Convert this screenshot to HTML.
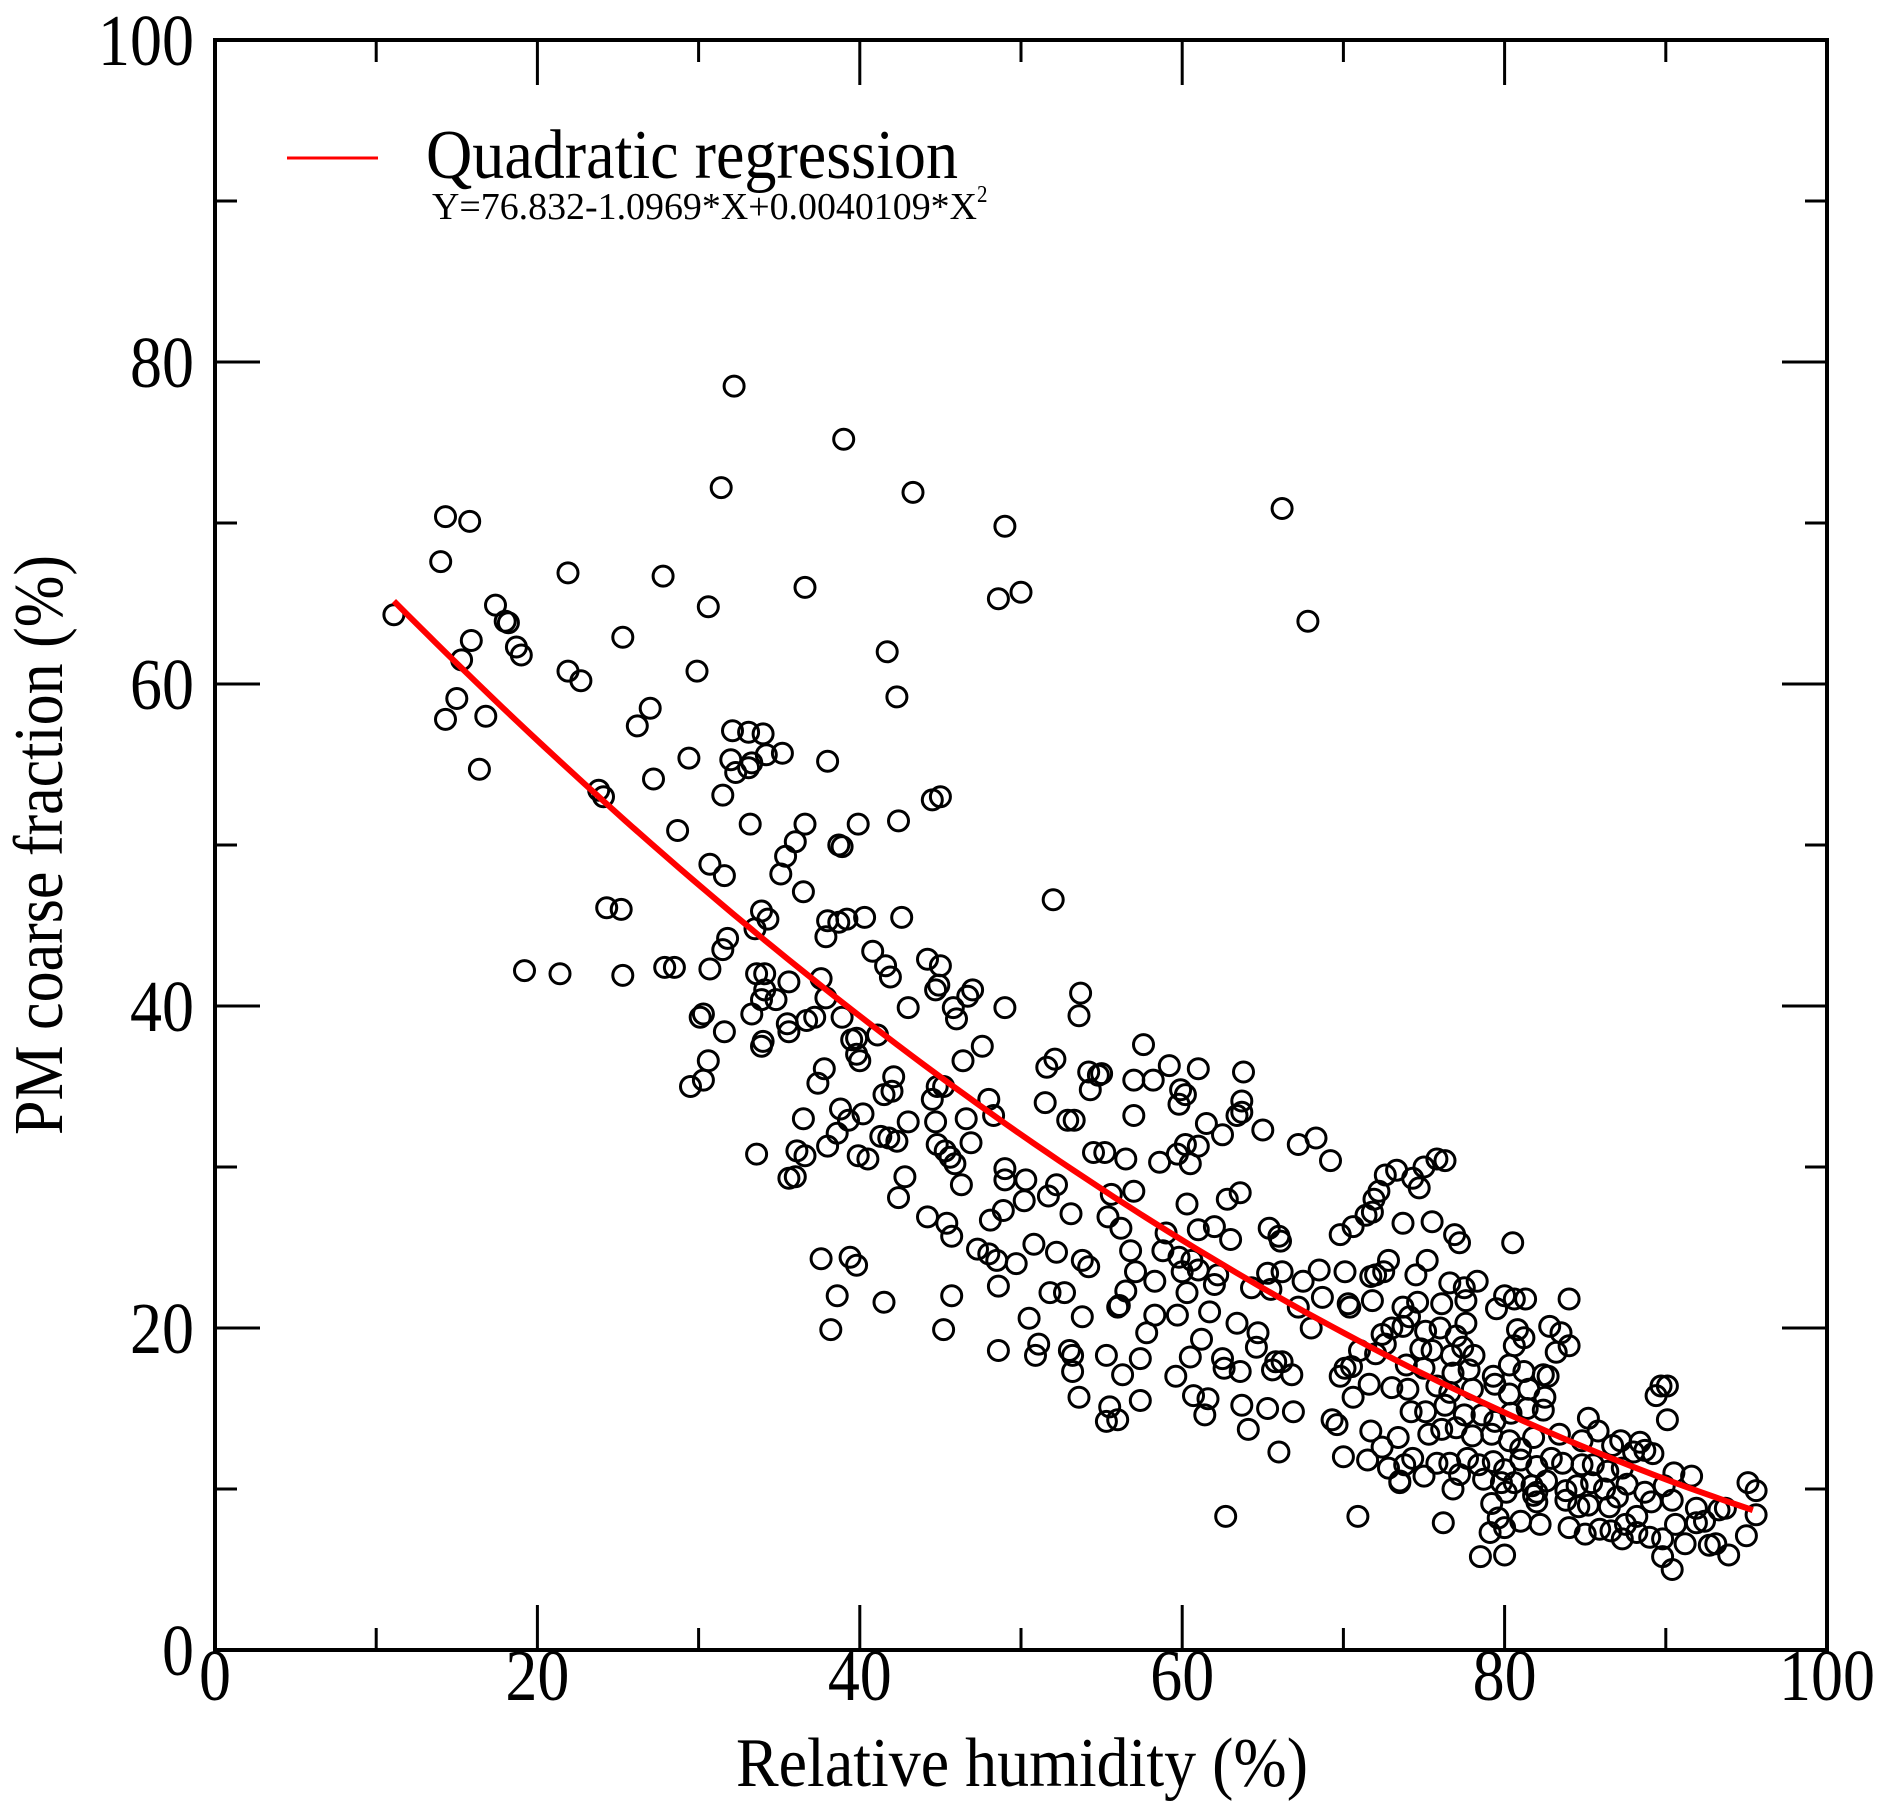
<!DOCTYPE html>
<html><head><meta charset="utf-8"><style>
html,body{margin:0;padding:0;background:#fff;}
svg{display:block;font-family:"Liberation Serif",serif;}
</style></head><body>
<svg id="chart" width="1892" height="1818" viewBox="0 0 1892 1818" xmlns="http://www.w3.org/2000/svg">
<g id="ticks"></g>
<g id="pts"></g>
<g id="fit"></g>
<rect x="215" y="40" width="1612" height="1610" fill="none" stroke="#000" stroke-width="4"/>
<g id="labels" font-size="64" fill="#000"></g>
<text transform="translate(1022,1786) scale(1,1.12)" font-size="62" text-anchor="middle" textLength="572" lengthAdjust="spacingAndGlyphs">Relative humidity (%)</text>
<text transform="translate(62,845) rotate(-90) scale(1,1.12)" font-size="62" text-anchor="middle">PM coarse fraction (%)</text>
<g>
<line x1="287" y1="158" x2="378" y2="158" stroke="#f00" stroke-width="3"/>
<text transform="translate(426,178) scale(1,1.12)" font-size="62" textLength="532" lengthAdjust="spacingAndGlyphs">Quadratic regression</text>
<text transform="translate(432,219) scale(1,1.15)" font-size="33"><tspan textLength="545" lengthAdjust="spacingAndGlyphs">Y=76.832-1.0969*X+0.0040109*X</tspan><tspan font-size="21" dy="-15">2</tspan></text>
</g>
</svg>
<script>
const xTicks=[0,20,40,60,80,100];
const yTicks=[0,20,40,60,80,100];
const fitCoef=[76.832,-1.0969,0.0040109];
const fitRange=[11.1,95.4];
const px=[11.1,14.0,14.3,14.3,15.0,15.3,15.8,15.9,16.4,16.8,17.4,18.0,18.2,18.7,19.0,19.2,21.4,21.9,21.9,22.7,23.8,24.1,24.3,25.2,25.3,25.3,26.2,27.0,27.2,27.8,27.9,28.5,28.7,29.4,29.5,29.9,30.1,30.3,30.3,30.6,30.6,30.7,30.7,31.4,31.5,31.5,31.6,31.6,31.8,32.0,32.1,32.2,32.3,33.1,33.1,33.2,33.3,33.3,33.5,33.6,33.6,33.9,33.9,33.9,34.0,34.0,34.1,34.1,34.2,34.3,34.8,35.1,35.2,35.4,35.5,35.6,35.6,35.6,36.0,36.0,36.1,36.5,36.5,36.6,36.6,36.6,36.7,37.2,37.4,37.6,37.6,37.8,37.9,37.9,38.0,38.0,38.0,38.2,38.6,38.6,38.7,38.7,38.8,38.9,38.9,39.0,39.2,39.3,39.4,39.5,39.8,39.8,39.8,39.9,39.9,40.0,40.2,40.3,40.5,40.8,41.1,41.3,41.5,41.5,41.6,41.7,41.8,41.9,42.0,42.1,42.3,42.3,42.4,42.4,42.6,42.8,43.0,43.0,43.3,44.2,44.2,44.5,44.5,44.7,44.7,44.8,44.8,44.9,45.0,45.0,45.2,45.2,45.3,45.4,45.6,45.7,45.7,45.8,45.9,46.0,46.3,46.4,46.6,46.7,46.9,47.0,47.3,47.6,48.0,48.0,48.1,48.3,48.5,48.6,48.6,48.6,48.9,49.0,49.0,49.0,49.0,49.7,50.0,50.2,50.3,50.5,50.8,50.9,51.1,51.5,51.6,51.7,51.8,52.0,52.1,52.2,52.2,52.7,52.9,53.0,53.1,53.2,53.2,53.3,53.6,53.6,53.7,53.8,53.8,54.2,54.2,54.3,54.5,54.8,55.0,55.2,55.3,55.3,55.4,55.5,55.6,56.0,56.0,56.1,56.2,56.3,56.5,56.5,56.8,57.0,57.0,57.0,57.1,57.4,57.4,57.6,57.8,58.2,58.3,58.3,58.6,58.8,59.0,59.2,59.6,59.7,59.7,59.8,59.8,59.9,60.0,60.2,60.2,60.3,60.3,60.5,60.5,60.6,60.7,61.0,61.0,61.0,61.0,61.2,61.4,61.5,61.6,61.7,62.0,62.0,62.2,62.5,62.6,62.7,62.8,63.0,63.4,63.4,63.6,63.6,63.7,63.7,63.7,63.8,64.1,64.3,64.6,64.7,65.0,65.3,65.3,65.4,65.5,65.6,65.8,66.0,66.0,66.1,66.2,66.2,66.2,66.8,66.9,67.2,67.2,67.5,67.8,68.0,68.3,68.5,68.7,69.3,69.8,70.1,70.4,62.5];
const py=[64.3,67.6,70.4,57.8,59.1,61.5,70.1,62.7,54.7,58.0,64.9,63.9,63.8,62.3,61.8,42.2,42.0,66.9,60.8,60.2,53.4,53.0,46.1,46.0,62.9,41.9,57.4,58.5,54.1,66.7,42.4,42.4,50.9,55.4,35.0,60.8,39.3,39.5,35.4,64.8,36.6,48.8,42.3,72.2,53.1,43.5,48.1,38.4,44.2,55.3,57.1,78.5,54.5,57.0,54.8,51.3,55.1,39.5,44.8,42.0,30.8,45.9,40.4,37.5,56.9,37.8,42.0,41.0,55.6,45.4,40.4,48.2,55.7,49.3,38.9,41.5,38.4,29.3,50.2,29.4,31.0,47.1,33.0,51.3,66.0,30.7,39.1,39.3,35.2,41.7,24.3,36.1,44.3,40.5,55.2,45.3,31.3,19.9,32.1,22.0,45.2,50.0,33.6,49.9,39.3,75.2,45.4,32.9,24.4,37.9,38.0,37.0,23.9,51.3,30.7,36.6,33.3,45.5,30.5,43.4,38.2,31.9,34.5,21.6,42.5,62.0,31.8,41.8,34.7,35.6,59.2,31.6,51.5,28.1,45.5,29.4,39.9,32.8,71.9,42.9,26.9,52.8,34.2,41.0,32.8,35.0,31.4,41.3,53.0,42.5,35.0,19.9,31.0,26.5,30.6,25.7,22.0,39.9,30.2,39.2,28.9,36.6,33.0,40.6,31.5,41.0,24.9,37.5,34.2,24.6,26.7,33.2,24.2,65.3,22.6,18.6,27.3,69.8,39.9,29.9,29.2,24.0,65.7,27.9,29.2,20.6,25.2,18.3,19.0,34.0,36.2,28.2,22.2,46.6,36.7,28.9,24.7,22.2,32.9,18.6,27.1,18.3,17.3,32.9,39.4,15.7,40.8,24.2,20.7,35.9,23.8,34.8,30.9,35.7,35.8,30.9,18.3,14.2,26.9,15.1,28.3,21.3,14.3,21.4,26.2,17.1,30.5,22.3,24.8,35.4,33.2,28.5,23.5,15.5,18.1,37.6,19.7,35.4,20.8,22.9,30.3,24.8,25.9,36.3,17.0,30.8,20.8,33.9,24.4,34.8,23.5,34.5,31.4,27.7,22.2,30.2,18.2,24.2,15.8,26.1,31.3,36.1,23.6,19.3,14.6,32.7,15.6,21.0,22.7,26.3,23.3,18.1,17.5,8.3,28.0,25.5,20.3,33.2,28.4,17.3,34.1,15.2,33.4,35.9,13.7,22.5,18.8,19.7,32.3,23.4,15.0,26.2,22.4,17.4,17.9,25.7,12.3,25.4,70.9,23.5,17.9,17.1,14.8,31.4,21.3,22.9,63.9,20.0,31.8,23.6,21.9,14.3,17.0,23.5,21.3,32.0,17.5,8.3];
const qx=[70.1,70.9,71.4,71.8,72.2,72.6,73.3,74.3,74.7,75.0,75.8,76.3,69.2,71.9,73.7,75.5,76.9,77.2,80.5,69.8,70.6,72.0,72.8,74.5,75.2,76.6,77.5,78.3,71.7,72.5,73.7,74.6,76.1,77.6,79.5,80.0,80.6,81.3,84.0,70.3,71.8,73.0,74.1,75.1,76.0,77.0,77.6,80.8,81.2,82.8,83.5,72.4,73.7,74.8,75.5,76.7,77.4,78.1,80.6,83.2,84.0,71.0,72.6,73.9,75.0,76.8,77.8,79.3,80.3,81.2,82.4,82.7,70.5,72.0,74.0,75.8,76.6,78.0,79.4,80.3,81.5,82.5,71.6,73.0,74.2,75.1,76.3,77.5,78.6,79.4,80.4,81.4,82.4,85.2,69.6,70.6,71.7,73.4,75.3,76.1,77.0,78.0,79.2,80.3,81.0,81.8,83.4,84.8,86.7,88.4,89.7,90.1,89.4,90.1,85.8,87.2,88.0,88.7,89.2,70.0,71.5,72.4,73.8,74.3,75.8,76.6,77.7,78.4,79.3,80.0,81.0,82.0,82.9,83.6,84.8,85.5,86.4,87.3,90.5,91.6,72.8,75.0,77.2,78.7,79.8,80.6,81.7,82.6,83.8,84.5,85.4,86.2,87.6,88.7,89.9,95.1,95.6,73.5,73.5,76.8,79.2,80.1,81.8,82.0,83.8,84.6,85.2,86.5,87.0,89.1,90.4,91.9,92.4,93.3,93.7,95.6,76.2,79.6,80.0,81.0,82.2,84.0,85.0,85.9,86.6,87.3,87.5,88.2,89.0,89.8,90.6,91.2,91.9,92.7,93.1,95.0,79.1,88.2,89.8,90.4,93.9,80.0,78.5,82.0];
const qy=[27.0,27.2,28.5,29.5,29.8,29.3,28.7,30.0,30.5,30.4,30.4,28.0,26.5,26.6,25.8,25.3,25.3,25.8,26.3,23.3,24.2,23.3,24.2,22.8,22.5,22.9,23.2,23.5,21.3,21.6,21.5,21.7,21.2,22.0,21.8,21.8,21.8,21.5,21.7,20.0,20.7,19.8,20.0,19.5,20.3,19.9,19.4,20.1,19.7,19.6,20.1,18.7,18.6,18.3,18.8,18.3,18.9,18.5,18.9,18.6,19.0,17.7,17.5,17.2,17.4,17.0,17.7,17.3,17.1,17.0,17.6,18.4,16.2,16.4,16.0,16.2,16.5,15.9,16.2,15.7,16.5,16.3,14.8,14.8,15.2,14.6,14.6,14.2,14.7,15.0,14.9,14.4,14.0,15.7,13.6,13.2,13.4,13.7,13.8,13.3,13.4,13.0,12.5,13.2,13.4,13.0,12.7,12.9,16.4,16.4,15.8,14.3,13.6,13.0,12.3,12.4,12.2,12.0,11.8,12.6,11.5,11.9,11.6,11.6,11.9,11.5,11.7,11.2,11.8,11.4,11.9,11.6,11.5,11.5,11.1,11.3,11.0,10.8,11.3,10.8,10.9,10.6,10.4,10.4,10.2,10.5,9.9,10.2,10.4,10.0,10.3,9.8,10.2,10.4,9.9,10.4,10.5,10.0,9.1,9.8,9.6,9.2,9.3,8.9,9.0,8.9,9.5,9.2,9.3,8.8,8.0,8.7,8.8,8.4,7.9,8.2,7.6,8.0,7.8,7.6,7.2,7.5,7.4,6.9,7.8,7.3,7.0,6.9,7.8,6.6,7.9,6.5,6.6,7.1,7.3,8.3,5.8,5.0,5.9,5.9,5.8,9.8,14.0,15.0];

const L=215,R=1827,T=40,B=1650;
function sx(v){return L+(v-0)/(100-0)*(R-L);}
function sy(v){return B-(v-0)/(100-0)*(B-T);}
const NS='http://www.w3.org/2000/svg';
const tg=document.getElementById('ticks'), lg=document.getElementById('labels');
function ln(x1,y1,x2,y2,name){
  const l=document.createElementNS(NS,'line');
  l.setAttribute('x1',x1);l.setAttribute('y1',y1);l.setAttribute('x2',x2);l.setAttribute('y2',y2);
  l.setAttribute('stroke','#000');l.setAttribute('stroke-width','3');
  
  
  tg.appendChild(l);
}
for(let i=0;i<xTicks.length;i++){
  const v=xTicks[i];
  [[v,45],[v+10,22]].forEach(([t,len])=>{ if(t>100)return;
    const X=sx(t); ln(X,B,X,B-len,'x-tick'); ln(X,T,X,T+len,'x-tick-top');});
  const tx=document.createElementNS(NS,'text');
  tx.setAttribute('transform','translate('+sx(v)+',1700) scale(1,1.15)');
  tx.setAttribute('text-anchor','middle');
  tx.textContent=v;
  
  
  lg.appendChild(tx);
}
for(let i=0;i<yTicks.length;i++){
  const v=yTicks[i];
  [[v,45],[v+10,22]].forEach(([t,len])=>{ if(t>100)return;
    const Y=sy(t); ln(L,Y,L+len,Y,'y-tick'); ln(R,Y,R-len,Y,'y-tick-right');});
  const tx=document.createElementNS(NS,'text');
  tx.setAttribute('transform','translate(194,'+(sy(v)+25)+') scale(1,1.15)');
  tx.setAttribute('text-anchor','end');
  tx.textContent=v;
  
  
  lg.appendChild(tx);
}
const pg=document.getElementById('pts');
const allX=px.concat(qx), allY=py.concat(qy);
for(let i=0;i<allX.length;i++){
  const c=document.createElementNS(NS,'circle');
  c.setAttribute('cx',sx(allX[i]).toFixed(1));c.setAttribute('cy',sy(allY[i]).toFixed(1));
  c.setAttribute('r','10');c.setAttribute('fill','none');c.setAttribute('stroke','#000');c.setAttribute('stroke-width','3');
  
  
  pg.appendChild(c);
}
let d='';
for(let k=0;k<=100;k++){
  const x=fitRange[0]+(fitRange[1]-fitRange[0])*k/100;
  const y=fitCoef[0]+fitCoef[1]*x+fitCoef[2]*x*x;
  d+=(k?'L':'M')+sx(x).toFixed(1)+','+sy(y).toFixed(1);
}
const p=document.createElementNS(NS,'path');
p.setAttribute('d',d);p.setAttribute('fill','none');p.setAttribute('stroke','#f00');p.setAttribute('stroke-width','6');


document.getElementById('fit').appendChild(p);
</script>
</body></html>
